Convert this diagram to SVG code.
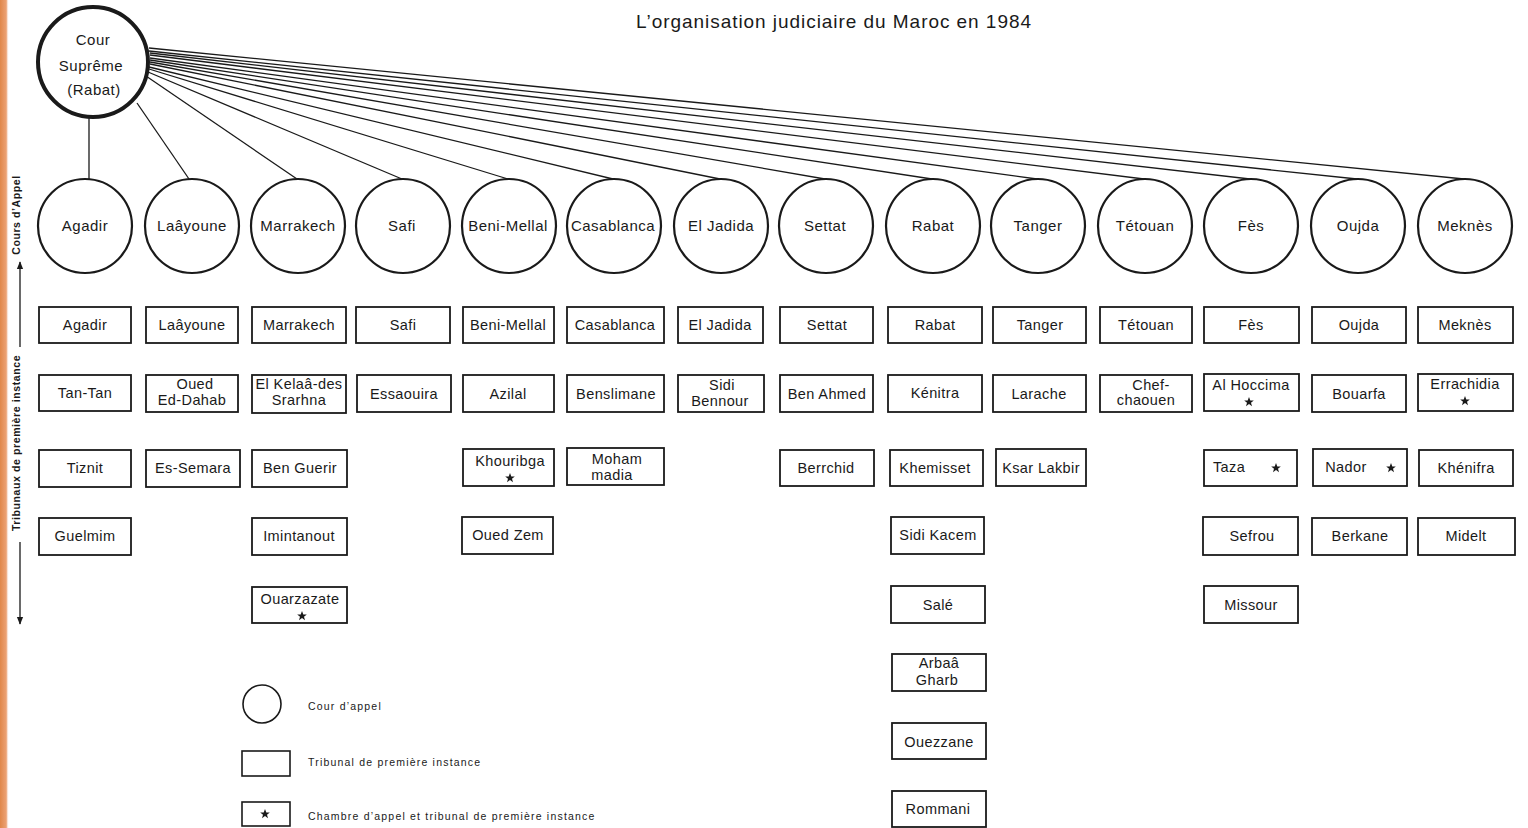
<svg xmlns="http://www.w3.org/2000/svg" width="1528" height="828" viewBox="0 0 1528 828">
<style>
text{font-family:"Liberation Sans","DejaVu Sans",sans-serif;fill:#1a1a1a}
.t{font-size:14.5px;text-anchor:middle;letter-spacing:0.4px}
.c{font-size:15px;text-anchor:middle;letter-spacing:0.5px}
.b{fill:#fff;stroke:#1a1a1a;stroke-width:1.8}
.ca{fill:#fff;stroke:#1a1a1a;stroke-width:2.2}
.ln{stroke:#1a1a1a;stroke-width:1.3;fill:none}
.lg{font-size:10.5px;letter-spacing:1.2px}
.ax{font-size:10.5px;font-weight:bold;text-anchor:middle;letter-spacing:0.6px}
</style>
<defs>
<polygon id="star" points="0,-5 1.3,-1.6 4.8,-1.5 2,0.7 3,4.2 0,2.1 -3,4.2 -2,0.7 -4.8,-1.5 -1.3,-1.6" fill="#1a1a1a"/>
<marker id="ar" viewBox="0 0 10 10" refX="9" refY="5" markerWidth="6" markerHeight="6" orient="auto-start-reverse"><path d="M0,1 L10,5 L0,9 z" fill="#1a1a1a"/></marker>
<linearGradient id="og" x1="0" x2="1" y1="0" y2="0"><stop offset="0" stop-color="#e0874a"/><stop offset="0.7" stop-color="#eca274"/><stop offset="1" stop-color="#fff" stop-opacity="0"/></linearGradient>
</defs>
<rect width="1528" height="828" fill="#fff"/>
<rect x="0" y="0" width="9" height="828" fill="url(#og)"/>

<text x="636" y="28" font-size="19" textLength="395" lengthAdjust="spacing">L’organisation judiciaire du Maroc en 1984</text>

<!-- axis -->
<g id="axis">
<text class="ax" transform="translate(20,215) rotate(-90)">Cours d’Appel</text>
<line class="ln" x1="20" y1="347" x2="20" y2="262" marker-end="url(#ar)"/>
<text class="ax" transform="translate(20,443) rotate(-90)" letter-spacing="0.8">Tribunaux de première instance</text>
<line class="ln" x1="20" y1="542" x2="20" y2="624" marker-end="url(#ar)"/>
</g>

<g id="connectors">
<line class="ln" x1="89" y1="118" x2="89" y2="179"/>
<line class="ln" x1="137" y1="103" x2="189" y2="179"/>
<line class="ln" x1="146" y1="76" x2="297" y2="179"/>
<line class="ln" x1="148" y1="72" x2="402" y2="179"/>
<line class="ln" x1="149" y1="69" x2="508" y2="179"/>
<line class="ln" x1="149" y1="67" x2="613" y2="179"/>
<line class="ln" x1="150" y1="64" x2="720" y2="179"/>
<line class="ln" x1="150" y1="62" x2="825" y2="179"/>
<line class="ln" x1="150" y1="60" x2="932" y2="179"/>
<line class="ln" x1="150" y1="58" x2="1037" y2="179"/>
<line class="ln" x1="150" y1="55" x2="1144" y2="179"/>
<line class="ln" x1="150" y1="53" x2="1250" y2="179"/>
<line class="ln" x1="149" y1="51" x2="1357" y2="179"/>
<line class="ln" x1="149" y1="48" x2="1464" y2="179"/>
</g>

<g id="cour-supreme">
<circle cx="93" cy="62" r="55" fill="#fff" stroke="#1a1a1a" stroke-width="4"/>
<text class="c" x="93" y="45">Cour</text>
<text class="c" x="91" y="71">Suprême</text>
<text class="c" x="94" y="95">(Rabat)</text>
</g>

<g id="cours-appel">
<g id="ca-agadir"><circle class="ca" cx="85" cy="226" r="47"/><text class="c" x="85" y="231">Agadir</text></g>
<g id="ca-laayoune"><circle class="ca" cx="192" cy="226" r="47"/><text class="c" x="192" y="231">Laâyoune</text></g>
<g id="ca-marrakech"><circle class="ca" cx="298" cy="226" r="47"/><text class="c" x="298" y="231">Marrakech</text></g>
<g id="ca-safi"><circle class="ca" cx="403" cy="226" r="47"/><text class="c" x="402" y="231">Safi</text></g>
<g id="ca-benimellal"><circle class="ca" cx="509" cy="226" r="47"/><text class="c" x="508" y="231" letter-spacing="0">Beni-Mellal</text></g>
<g id="ca-casablanca"><circle class="ca" cx="614" cy="226" r="47"/><text class="c" x="613" y="231" letter-spacing="0">Casablanca</text></g>
<g id="ca-eljadida"><circle class="ca" cx="721" cy="226" r="47"/><text class="c" x="721" y="231">El Jadida</text></g>
<g id="ca-settat"><circle class="ca" cx="826" cy="226" r="47"/><text class="c" x="825" y="231">Settat</text></g>
<g id="ca-rabat"><circle class="ca" cx="933" cy="226" r="47"/><text class="c" x="933" y="231">Rabat</text></g>
<g id="ca-tanger"><circle class="ca" cx="1038" cy="226" r="47"/><text class="c" x="1038" y="231">Tanger</text></g>
<g id="ca-tetouan"><circle class="ca" cx="1145" cy="226" r="47"/><text class="c" x="1145" y="231">Tétouan</text></g>
<g id="ca-fes"><circle class="ca" cx="1251" cy="226" r="47"/><text class="c" x="1251" y="231">Fès</text></g>
<g id="ca-oujda"><circle class="ca" cx="1358" cy="226" r="47"/><text class="c" x="1358" y="231">Oujda</text></g>
<g id="ca-meknes"><circle class="ca" cx="1465" cy="226" r="47"/><text class="c" x="1465" y="231">Meknès</text></g>
</g>

<g id="tribunaux">
<!-- row 1 -->
<g id="t-agadir"><rect class="b" x="39" y="307" width="92" height="36"/><text class="t" x="85" y="330">Agadir</text></g>
<g id="t-laayoune"><rect class="b" x="146" y="307" width="92" height="36"/><text class="t" x="192" y="330">Laâyoune</text></g>
<g id="t-marrakech"><rect class="b" x="252" y="307" width="94" height="36"/><text class="t" x="299" y="330">Marrakech</text></g>
<g id="t-safi"><rect class="b" x="356" y="307" width="94" height="36"/><text class="t" x="403" y="330">Safi</text></g>
<g id="t-benimellal"><rect class="b" x="463" y="307" width="91" height="36"/><text class="t" x="508" y="330" letter-spacing="0">Beni-Mellal</text></g>
<g id="t-casablanca"><rect class="b" x="567" y="307" width="97" height="36"/><text class="t" x="615" y="330">Casablanca</text></g>
<g id="t-eljadida"><rect class="b" x="678" y="307" width="85" height="36"/><text class="t" x="720" y="330">El Jadida</text></g>
<g id="t-settat"><rect class="b" x="780" y="307" width="93" height="36"/><text class="t" x="827" y="330">Settat</text></g>
<g id="t-rabat"><rect class="b" x="888" y="307" width="94" height="36"/><text class="t" x="935" y="330">Rabat</text></g>
<g id="t-tanger"><rect class="b" x="993" y="307" width="93" height="36"/><text class="t" x="1040" y="330">Tanger</text></g>
<g id="t-tetouan"><rect class="b" x="1100" y="307" width="92" height="36"/><text class="t" x="1146" y="330">Tétouan</text></g>
<g id="t-fes"><rect class="b" x="1204" y="307" width="95" height="36"/><text class="t" x="1251" y="330">Fès</text></g>
<g id="t-oujda"><rect class="b" x="1312" y="307" width="94" height="36"/><text class="t" x="1359" y="330">Oujda</text></g>
<g id="t-meknes"><rect class="b" x="1418" y="307" width="95" height="36"/><text class="t" x="1465" y="330">Meknès</text></g>

<!-- row 2 -->
<g id="t-tantan"><rect class="b" x="39" y="375" width="92" height="36"/><text class="t" x="85" y="398">Tan-Tan</text></g>
<g id="t-oued-ed-dahab"><rect class="b" x="146" y="375" width="92" height="37"/><text class="t" x="195" y="389">Oued</text><text class="t" x="192" y="405">Ed-Dahab</text></g>
<g id="t-elkelaa"><rect class="b" x="252" y="375" width="94" height="38"/><text class="t" x="299" y="389" font-size="13.5" letter-spacing="0">El Kelaâ-des</text><text class="t" x="299" y="405" font-size="13.5">Srarhna</text></g>
<g id="t-essaouira"><rect class="b" x="357" y="375" width="94" height="37"/><text class="t" x="404" y="399">Essaouira</text></g>
<g id="t-azilal"><rect class="b" x="463" y="375" width="91" height="37"/><text class="t" x="508" y="399">Azilal</text></g>
<g id="t-benslimane"><rect class="b" x="567" y="375" width="97" height="37"/><text class="t" x="616" y="399" letter-spacing="0.2">Benslimane</text></g>
<g id="t-sidibennour"><rect class="b" x="678" y="375" width="86" height="37" stroke-width="2.4"/><text class="t" x="722" y="390">Sidi</text><text class="t" x="720" y="406">Bennour</text></g>
<g id="t-benahmed"><rect class="b" x="780" y="375" width="93" height="37"/><text class="t" x="827" y="399" letter-spacing="0.2">Ben Ahmed</text></g>
<g id="t-kenitra"><rect class="b" x="888" y="375" width="94" height="37"/><text class="t" x="935" y="398">Kénitra</text></g>
<g id="t-larache"><rect class="b" x="993" y="375" width="93" height="37"/><text class="t" x="1039" y="399">Larache</text></g>
<g id="t-chefchaouen"><rect class="b" x="1100" y="375" width="92" height="37"/><text class="t" x="1151" y="390">Chef-</text><text class="t" x="1146" y="405">chaouen</text></g>
<g id="t-alhoceima"><rect class="b" x="1204" y="374" width="95" height="37"/><text class="t" x="1251" y="390" letter-spacing="0.2">Al Hoccima</text><use href="#star" x="1249" y="402"/></g>
<g id="t-bouarfa"><rect class="b" x="1312" y="375" width="94" height="37"/><text class="t" x="1359" y="399">Bouarfa</text></g>
<g id="t-errachidia"><rect class="b" x="1418" y="374" width="95" height="37"/><text class="t" x="1465" y="389" font-size="13.5">Errachidia</text><use href="#star" x="1465" y="401"/></g>

<!-- row 3 -->
<g id="t-tiznit"><rect class="b" x="39" y="450" width="92" height="37"/><text class="t" x="85" y="473">Tiznit</text></g>
<g id="t-essemara"><rect class="b" x="146" y="450" width="94" height="37"/><text class="t" x="193" y="473">Es-Semara</text></g>
<g id="t-benguerir"><rect class="b" x="252" y="450" width="95" height="37"/><text class="t" x="300" y="473">Ben Guerir</text></g>
<g id="t-khouribga"><rect class="b" x="463" y="449" width="91" height="37"/><text class="t" x="510" y="466">Khouribga</text><use href="#star" x="510" y="478"/></g>
<g id="t-mohammedia"><rect class="b" x="567" y="448" width="97" height="37"/><text class="t" x="617" y="464">Moham</text><text class="t" x="612" y="480">madia</text></g>
<g id="t-berrchid"><rect class="b" x="780" y="450" width="94" height="36"/><text class="t" x="826" y="473">Berrchid</text></g>
<g id="t-khemisset"><rect class="b" x="890" y="450" width="93" height="36"/><text class="t" x="935" y="473">Khemisset</text></g>
<g id="t-ksarlakbir"><rect class="b" x="996" y="449" width="90" height="37" stroke-width="2.2"/><text class="t" x="1041" y="473" letter-spacing="0.1">Ksar Lakbir</text></g>
<g id="t-taza"><rect class="b" x="1204" y="450" width="93" height="36"/><text class="t" x="1229" y="472">Taza</text><use href="#star" x="1276" y="468"/></g>
<g id="t-nador"><rect class="b" x="1313" y="449" width="94" height="37"/><text class="t" x="1346" y="472">Nador</text><use href="#star" x="1391" y="468"/></g>
<g id="t-khenifra"><rect class="b" x="1419" y="450" width="94" height="36"/><text class="t" x="1466" y="473">Khénifra</text></g>

<!-- row 4 -->
<g id="t-guelmim"><rect class="b" x="39" y="518" width="92" height="37"/><text class="t" x="85" y="541">Guelmim</text></g>
<g id="t-imintanout"><rect class="b" x="252" y="518" width="95" height="37"/><text class="t" x="299" y="541">Imintanout</text></g>
<g id="t-ouedzem"><rect class="b" x="462" y="517" width="91" height="37"/><text class="t" x="508" y="540">Oued Zem</text></g>
<g id="t-sidikacem"><rect class="b" x="891" y="517" width="93" height="37"/><text class="t" x="938" y="540">Sidi Kacem</text></g>
<g id="t-sefrou"><rect class="b" x="1203" y="517" width="95" height="38"/><text class="t" x="1252" y="541">Sefrou</text></g>
<g id="t-berkane"><rect class="b" x="1312" y="518" width="95" height="37"/><text class="t" x="1360" y="541">Berkane</text></g>
<g id="t-midelt"><rect class="b" x="1418" y="518" width="97" height="37"/><text class="t" x="1466" y="541">Midelt</text></g>

<!-- row 5 -->
<g id="t-ouarzazate"><rect class="b" x="252" y="587" width="95" height="36"/><text class="t" x="300" y="604">Ouarzazate</text><use href="#star" x="302" y="616"/></g>
<g id="t-sale"><rect class="b" x="891" y="586" width="94" height="37"/><text class="t" x="938" y="610">Salé</text></g>
<g id="t-missour"><rect class="b" x="1204" y="586" width="94" height="37"/><text class="t" x="1251" y="610">Missour</text></g>

<!-- rows 6-8 -->
<g id="t-arbaagharb"><rect class="b" x="892" y="654" width="94" height="37" stroke-width="2.2"/><text class="t" x="939" y="668">Arbaâ</text><text class="t" x="937" y="685">Gharb</text></g>
<g id="t-ouezzane"><rect class="b" x="892" y="723" width="94" height="36"/><text class="t" x="939" y="747">Ouezzane</text></g>
<g id="t-rommani"><rect class="b" x="892" y="791" width="94" height="36"/><text class="t" x="938" y="814">Rommani</text></g>
</g>

<g id="legende">
<circle cx="262" cy="704" r="19" fill="#fff" stroke="#1a1a1a" stroke-width="1.6"/>
<text class="lg" x="308" y="710">Cour d’appel</text>
<rect x="242" y="751" width="48" height="25" fill="#fff" stroke="#1a1a1a" stroke-width="1.6"/>
<text class="lg" x="308" y="766">Tribunal de première instance</text>
<rect x="242" y="802" width="48" height="24" fill="#fff" stroke="#1a1a1a" stroke-width="1.6"/>
<use href="#star" x="265" y="814"/>
<text class="lg" x="308" y="820">Chambre d’appel et tribunal de première instance</text>
</g>
</svg>
